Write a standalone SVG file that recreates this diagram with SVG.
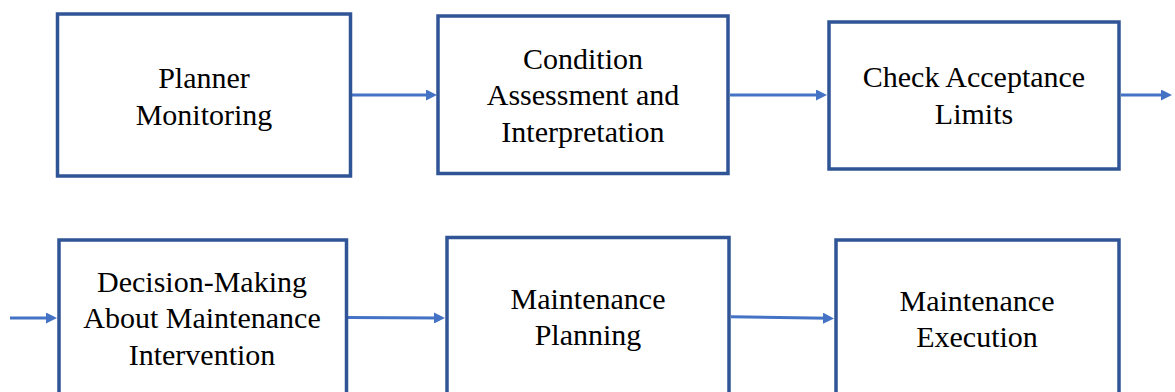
<svg xmlns="http://www.w3.org/2000/svg" width="1175" height="392" viewBox="0 0 1175 392">
  <style>
    .box { fill: #ffffff; stroke: #2F5597; stroke-width: 3.5; }
    .lbl { font-family: "Liberation Serif", "Times New Roman", serif; font-size: 30px; fill: #000000; text-anchor: middle; }
    .conn { stroke: #4472C4; stroke-width: 3; fill: none; marker-end: url(#arrow); }
  </style>
  <defs>
    <marker id="arrow" markerUnits="userSpaceOnUse" markerWidth="12" markerHeight="11" refX="6" refY="5.5" orient="auto">
      <path d="M0,0 L11,5.5 L0,11 z" fill="#4472C4"/>
    </marker>
  </defs>
  <rect width="1175" height="392" fill="#ffffff"/>

  <g id="connectors">
    <line class="conn" x1="352" y1="95" x2="432" y2="95"/>
    <line class="conn" x1="730" y1="95" x2="822" y2="95"/>
    <line class="conn" x1="1121" y1="95" x2="1167" y2="95"/>
    <line class="conn" x1="10" y1="318" x2="52" y2="318"/>
    <line class="conn" x1="348" y1="317.5" x2="440" y2="318"/>
    <line class="conn" x1="731" y1="316.7" x2="829" y2="318.3"/>
  </g>

  <g id="planner-monitoring">
    <rect class="box" x="57.5" y="14" width="293" height="162"/>
    <text class="lbl" x="204" y="88">Planner</text>
    <text class="lbl" x="204" y="125">Monitoring</text>
  </g>

  <g id="condition-assessment">
    <rect class="box" x="438" y="16" width="290" height="157.5"/>
    <text class="lbl" x="583" y="69.3">Condition</text>
    <text class="lbl" x="583" y="105">Assessment and</text>
    <text class="lbl" x="583" y="141.7">Interpretation</text>
  </g>

  <g id="check-acceptance">
    <rect class="box" x="829" y="22" width="290" height="147"/>
    <text class="lbl" x="974" y="87.3">Check Acceptance</text>
    <text class="lbl" x="974" y="124">Limits</text>
  </g>

  <g id="decision-making">
    <rect class="box" x="59" y="240" width="287.5" height="200"/>
    <text class="lbl" x="202" y="291.7">Decision-Making</text>
    <text class="lbl" x="202" y="328.3">About Maintenance</text>
    <text class="lbl" x="202" y="365">Intervention</text>
  </g>

  <g id="maintenance-planning">
    <rect class="box" x="447" y="237.5" width="282" height="200"/>
    <text class="lbl" x="588" y="309">Maintenance</text>
    <text class="lbl" x="588" y="345">Planning</text>
  </g>

  <g id="maintenance-execution">
    <rect class="box" x="836" y="240" width="283" height="200"/>
    <text class="lbl" x="977" y="310.7">Maintenance</text>
    <text class="lbl" x="977" y="346.7">Execution</text>
  </g>
</svg>
